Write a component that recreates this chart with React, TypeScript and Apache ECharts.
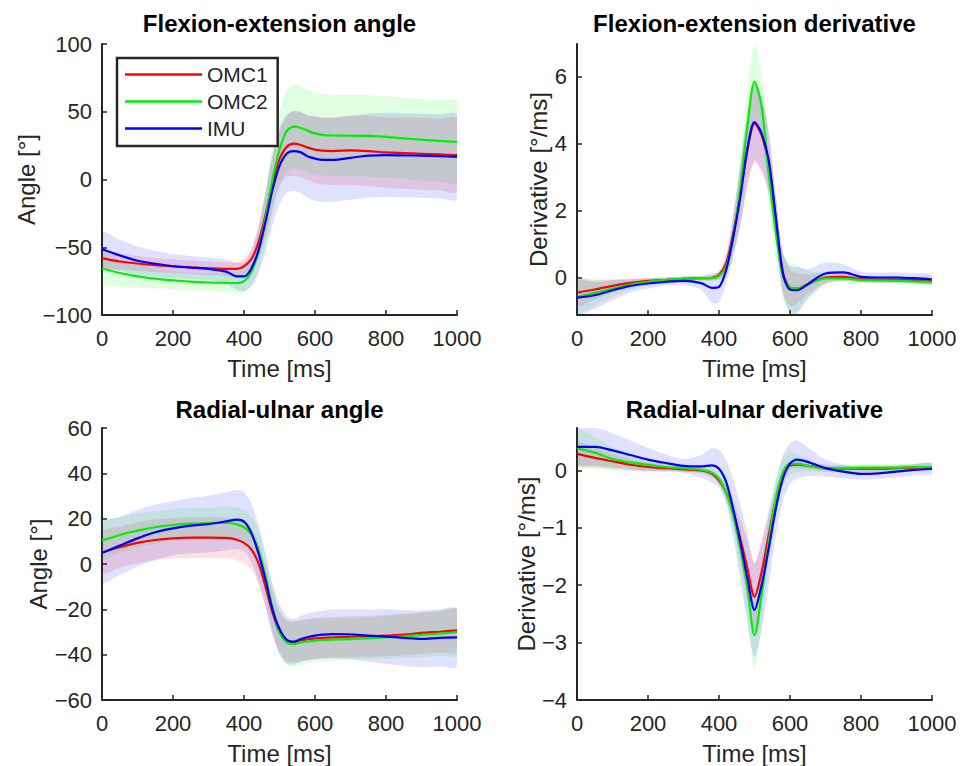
import React, { useEffect, useRef } from "react";
import * as echarts from "echarts";

// ---------- data ----------
const TIME = [0, 50, 100, 150, 200, 250, 300, 350, 380, 400, 420, 440, 460, 480, 500, 520, 540, 560, 580, 600, 620, 650, 700, 750, 800, 850, 900, 950, 1000];

const SERIES_NAMES = ["OMC1", "OMC2", "IMU"];
const LINE_COLORS = ["#ff0000", "#00f000", "#0000ff"];
const BAND_COLORS = ["#ff0000", "#00ff00", "#0000ff"];

const TITLES = ["Flexion-extension angle", "Flexion-extension derivative", "Radial-ulnar angle", "Radial-ulnar derivative"];
const Y_NAMES = ["Angle [°]", "Derivative [°/ms]", "Angle [°]", "Derivative [°/ms]"];
const X_NAME = "Time [ms]";
const X_TICKS = [0, 200, 400, 600, 800, 1000];
const Y_TICKS_FE_ANGLE = [-100, -50, 0, 50, 100];
const Y_TICKS_FE_DERIV = [0, 2, 4, 6];
const Y_TICKS_RU_ANGLE = [-60, -40, -20, 0, 20, 40, 60];
const Y_TICKS_RU_DERIV = [-4, -3, -2, -1, 0];
const Y_RANGES = [[-100, 100], [-1.12, 6.97], [-60, 60], [-4, 0.74]];

// Flexion-extension angle: means
const FE_ANGLE_OMC1 = [-58, -60.5, -62, -63.2, -64, -64.8, -65.5, -66, -66, -64, -59, -47, -27, -2.5, 15, 24, 26.5, 25.5, 23.5, 22, 21.3, 21, 21.5, 21, 20, 19.5, 19, 18.5, 18];
const FE_ANGLE_OMC2 = [-65.7, -69, -71.5, -73.2, -74.5, -75.4, -76, -76.3, -76.5, -75, -68.6, -54, -29, 0, 22, 35.5, 39, 38, 36, 34, 33, 32.6, 32.3, 32.2, 31.4, 30.4, 29.4, 28.5, 27.7];
const FE_ANGLE_IMU = [-51.5, -56, -60, -62.2, -64, -65, -66, -68, -71.5, -71.5, -66, -53, -32, -8, 10, 19, 21, 20, 17, 15.5, 14.5, 14.5, 16, 17.6, 18, 17.8, 17.6, 17.2, 16.7];
// Flexion-extension angle: standard deviations
const FE_ANGLE_OMC1_SD = [6, 6, 5.5, 5, 5, 5, 5, 5, 5, 6, 8, 12, 16, 19, 20, 22, 24, 24, 24, 24.5, 24.8, 25, 25.5, 26, 26, 26.3, 26.5, 26.6, 26.6];
const FE_ANGLE_OMC2_SD = [11.5, 10, 8.5, 7, 6.5, 6.5, 6.5, 7, 7.5, 8, 10, 14, 20, 25, 28, 30, 31, 31, 30.5, 30, 30, 30, 30, 30, 30, 30, 30, 30, 30];
const FE_ANGLE_IMU_SD = [12.5, 11.5, 10.5, 9.5, 9, 8.5, 8.5, 9, 10, 11, 13, 17, 22, 26, 28, 29, 29.5, 30, 30.5, 31, 31, 31, 31, 31, 31, 31, 31, 31, 31];

// Flexion-extension derivative: means
const FE_DERIV_OMC1 = [-0.45, -0.36, -0.25, -0.16, -0.1, -0.07, -0.04, -0.02, -0.01, 0.07, 0.42, 1.3, 2.5, 3.8, 4.6, 4.25, 3.4, 1.75, 0.15, -0.3, -0.33, -0.2, 0, 0.02, -0.05, -0.06, -0.06, -0.07, -0.08];
const FE_DERIV_OMC2 = [-0.58, -0.46, -0.33, -0.21, -0.13, -0.07, -0.04, -0.02, -0.02, 0.04, 0.32, 1.2, 2.7, 4.5, 5.85, 5.1, 3.1, 1.35, 0.05, -0.3, -0.33, -0.2, -0.03, -0.03, -0.08, -0.09, -0.1, -0.12, -0.13];
const FE_DERIV_IMU = [-0.6, -0.53, -0.38, -0.25, -0.18, -0.13, -0.1, -0.17, -0.31, -0.28, 0.22, 1.2, 2.4, 3.85, 4.64, 4.3, 3.5, 1.8, 0.12, -0.36, -0.38, -0.2, 0.12, 0.15, 0.02, 0, 0, -0.02, -0.06];
// Flexion-extension derivative: standard deviations
const FE_DERIV_OMC1_SD = [0.4, 0.3, 0.2, 0.13, 0.1, 0.08, 0.07, 0.07, 0.08, 0.12, 0.3, 0.6, 0.9, 1.1, 1.2, 1.1, 0.9, 0.7, 0.6, 0.55, 0.45, 0.3, 0.15, 0.12, 0.1, 0.1, 0.1, 0.1, 0.1];
const FE_DERIV_OMC2_SD = [0.5, 0.38, 0.25, 0.15, 0.1, 0.08, 0.07, 0.07, 0.08, 0.12, 0.3, 0.6, 0.9, 1.05, 1.1, 1.0, 0.9, 0.75, 0.7, 0.75, 0.7, 0.4, 0.15, 0.12, 0.1, 0.1, 0.1, 0.1, 0.1];
const FE_DERIV_IMU_SD = [0.5, 0.4, 0.3, 0.2, 0.15, 0.12, 0.12, 0.2, 0.45, 0.45, 0.4, 0.6, 0.9, 1.05, 1.15, 1.1, 0.9, 0.7, 0.6, 0.7, 0.7, 0.45, 0.33, 0.25, 0.15, 0.15, 0.15, 0.15, 0.15];

// Radial-ulnar angle: means
const RU_ANGLE_OMC1 = [5.1, 7.4, 9.3, 10.6, 11.3, 11.6, 11.6, 11.5, 10.7, 9.3, 6.6, 0.7, -9.6, -21.3, -30, -33.8, -34.3, -33.8, -33.2, -32.8, -32.6, -32.4, -32, -31.9, -31.6, -31.2, -30.4, -29.9, -29.3];
const RU_ANGLE_OMC2 = [10.3, 12.8, 14.7, 16.2, 17.2, 17.8, 18, 18.2, 17.5, 16.2, 13.2, 6.6, -5.1, -19.1, -30, -34.6, -35.3, -34.6, -34.2, -33.8, -33.6, -33.4, -33.1, -32.8, -32.4, -31.9, -31.3, -30.7, -30.1];
const RU_ANGLE_IMU = [4.9, 8.1, 11.3, 14, 15.7, 16.9, 17.6, 18.8, 19.6, 18.7, 14, 5.1, -6.6, -19.9, -28.7, -33.4, -34.3, -33.1, -32.2, -31.6, -31.2, -30.9, -31, -31.6, -32, -32.6, -33, -32.6, -32.4];
// Radial-ulnar angle: standard deviations
const RU_ANGLE_OMC1_SD = [9, 9, 9, 9, 9, 9, 9, 9, 9, 9, 9, 9, 9, 9, 9, 9, 9, 9, 9, 9, 9, 9, 9, 9, 9.1, 9.2, 9.2, 9.3, 9.3];
const RU_ANGLE_OMC2_SD = [8, 7.8, 7.5, 7.2, 7, 7, 7, 7.2, 7.4, 7.5, 8, 8.5, 9, 9.5, 10, 10, 10, 9.8, 9.6, 9.5, 9.3, 9.2, 9, 9.2, 9.5, 9.6, 9.8, 9.9, 10];
const RU_ANGLE_IMU_SD = [13, 12.8, 12.5, 12.2, 12, 12.2, 12.5, 12.8, 13, 13, 13, 12.5, 12, 11.5, 11, 10.5, 10, 10.2, 10.4, 10.5, 10.6, 10.8, 11, 11.5, 12, 12.3, 12.5, 12.6, 12.6];

// Radial-ulnar derivative: means
const RU_DERIV_OMC1 = [0.29, 0.22, 0.16, 0.1, 0.06, 0.04, 0.02, 0, -0.06, -0.17, -0.38, -0.72, -1.19, -1.71, -2.2, -1.77, -1.13, -0.52, -0.09, 0.09, 0.1, 0.08, 0.04, 0.03, 0.03, 0.03, 0.04, 0.05, 0.06];
const RU_DERIV_OMC2 = [0.39, 0.31, 0.2, 0.14, 0.1, 0.06, 0.04, 0.01, -0.04, -0.14, -0.38, -0.78, -1.36, -2.06, -2.87, -2.17, -1.25, -0.49, -0.03, 0.12, 0.12, 0.08, 0.03, 0.04, 0.05, 0.05, 0.05, 0.06, 0.06];
const RU_DERIV_IMU = [0.41, 0.41, 0.35, 0.27, 0.19, 0.13, 0.08, 0.07, 0.09, 0.03, -0.2, -0.67, -1.25, -1.88, -2.43, -2.0, -1.36, -0.67, -0.14, 0.12, 0.19, 0.15, 0.04, -0.02, -0.06, -0.05, -0.02, 0.01, 0.03];
// Radial-ulnar derivative: standard deviations
const RU_DERIV_OMC1_SD = [0.2, 0.17, 0.13, 0.1, 0.08, 0.06, 0.05, 0.05, 0.06, 0.08, 0.12, 0.2, 0.35, 0.5, 0.58, 0.5, 0.35, 0.2, 0.12, 0.08, 0.06, 0.06, 0.06, 0.06, 0.06, 0.06, 0.06, 0.06, 0.06];
const RU_DERIV_OMC2_SD = [0.33, 0.27, 0.2, 0.15, 0.1, 0.07, 0.06, 0.06, 0.07, 0.1, 0.15, 0.25, 0.38, 0.5, 0.58, 0.5, 0.4, 0.3, 0.25, 0.2, 0.15, 0.1, 0.06, 0.06, 0.06, 0.06, 0.06, 0.06, 0.06];
const RU_DERIV_IMU_SD = [0.3, 0.33, 0.3, 0.25, 0.2, 0.15, 0.12, 0.2, 0.3, 0.33, 0.38, 0.5, 0.65, 0.78, 0.82, 0.78, 0.65, 0.5, 0.4, 0.35, 0.33, 0.25, 0.15, 0.12, 0.1, 0.1, 0.1, 0.1, 0.1];

const PANEL_MEANS = [
  [FE_ANGLE_OMC1, FE_ANGLE_OMC2, FE_ANGLE_IMU],
  [FE_DERIV_OMC1, FE_DERIV_OMC2, FE_DERIV_IMU],
  [RU_ANGLE_OMC1, RU_ANGLE_OMC2, RU_ANGLE_IMU],
  [RU_DERIV_OMC1, RU_DERIV_OMC2, RU_DERIV_IMU],
];
const PANEL_SDS = [
  [FE_ANGLE_OMC1_SD, FE_ANGLE_OMC2_SD, FE_ANGLE_IMU_SD],
  [FE_DERIV_OMC1_SD, FE_DERIV_OMC2_SD, FE_DERIV_IMU_SD],
  [RU_ANGLE_OMC1_SD, RU_ANGLE_OMC2_SD, RU_ANGLE_IMU_SD],
  [RU_DERIV_OMC1_SD, RU_DERIV_OMC2_SD, RU_DERIV_IMU_SD],
];
const PANEL_Y_TICKS = [Y_TICKS_FE_ANGLE, Y_TICKS_FE_DERIV, Y_TICKS_RU_ANGLE, Y_TICKS_RU_DERIV];

// ---------- layout / style ----------
const FONT = '"Liberation Sans", Arial, Helvetica, sans-serif';
const TEXT_COLOR = "#262626";
const GRIDS = [
  { left: 102, top: 44, width: 355, height: 271 },
  { left: 577, top: 44, width: 355, height: 271 },
  { left: 102, top: 428, width: 355, height: 272 },
  { left: 577, top: 428, width: 355, height: 272 },
];
const Y_NAME_GAPS = [60, 27, 48, 35];
const TITLE_TOPS = [11, 11, 397, 397];
const BAND_OPACITY = 0.12;
const SMOOTH = 0.3;

const fmt = (v: number) => String(v).replace("-", "\u2212");

function buildOption() {
  const series: any[] = [];
  PANEL_MEANS.forEach((means, p) => {
    means.forEach((mean, s) => {
      const sd = PANEL_SDS[p][s];
      const bandData = TIME.map((t, k) => [t, mean[k] - sd[k], mean[k] + sd[k]]);
      series.push({
        type: "custom",
        name: `${SERIES_NAMES[s]} band`,
        xAxisIndex: p,
        yAxisIndex: p,
        data: bandData,
        encode: { x: 0, y: [1, 2] },
        silent: true,
        clip: true,
        z: 1,
        renderItem: (params: any, api: any) => {
          if (params.dataIndex !== 0) return null;
          const upper = bandData.map((d) => api.coord([d[0], d[2]]));
          const lower = bandData.map((d) => api.coord([d[0], d[1]])).reverse();
          return {
            type: "polygon",
            shape: { points: upper.concat(lower), smooth: SMOOTH, smoothConstraint: false },
            style: { fill: BAND_COLORS[s], opacity: BAND_OPACITY, stroke: "none" },
          };
        },
      });
    });
    means.forEach((mean, s) => {
      series.push({
        type: "line",
        name: SERIES_NAMES[s],
        xAxisIndex: p,
        yAxisIndex: p,
        data: TIME.map((t, k) => [t, mean[k]]),
        smooth: SMOOTH,
        symbol: "none",
        showSymbol: false,
        lineStyle: { color: LINE_COLORS[s], width: 2.2 },
        itemStyle: { color: LINE_COLORS[s] },
        z: 3,
      });
    });
  });

  const axisLine = { show: true, onZero: false, lineStyle: { color: TEXT_COLOR, width: 2 } };
  const axisTick = { show: true, inside: true, length: 5, lineStyle: { color: TEXT_COLOR, width: 1.5 } };

  const xAxis = GRIDS.map((_, p) => ({
    type: "value",
    gridIndex: p,
    min: 0,
    max: 1000,
    name: X_NAME,
    nameLocation: "middle",
    nameGap: 41,
    nameTextStyle: { fontSize: 24, color: TEXT_COLOR, fontFamily: FONT },
    axisLine,
    axisTick: { ...axisTick, customValues: X_TICKS },
    axisLabel: { customValues: X_TICKS, fontSize: 22, color: TEXT_COLOR, fontFamily: FONT, margin: 12, formatter: fmt },
    splitLine: { show: false },
  }));

  const yAxis = GRIDS.map((_, p) => ({
    type: "value",
    gridIndex: p,
    min: Y_RANGES[p][0],
    max: Y_RANGES[p][1],
    name: Y_NAMES[p],
    nameLocation: "middle",
    nameGap: Y_NAME_GAPS[p],
    nameTextStyle: { fontSize: 24, color: TEXT_COLOR, fontFamily: FONT },
    axisLine,
    axisTick: { ...axisTick, customValues: PANEL_Y_TICKS[p] },
    axisLabel: {
      customValues: PANEL_Y_TICKS[p],
      fontSize: 22,
      color: TEXT_COLOR,
      fontFamily: FONT,
      margin: 10,
      formatter: fmt,
      showMinLabel: true,
      showMaxLabel: true,
    },
    splitLine: { show: false },
  }));

  const title = TITLES.map((text, p) => ({
    text,
    left: GRIDS[p].left + GRIDS[p].width / 2,
    top: TITLE_TOPS[p],
    textAlign: "center",
    padding: 0,
    textStyle: { fontSize: 24, fontWeight: "bold", color: "#000", fontFamily: FONT, lineHeight: 24 },
  }));

  return {
    animation: false,
    backgroundColor: "#ffffff",
    title,
    grid: GRIDS.map((g) => ({ ...g, containLabel: false })),
    xAxis,
    yAxis,
    legend: {
      show: true,
      data: SERIES_NAMES,
      orient: "vertical",
      left: 117,
      top: 58,
      padding: [6, 10, 7, 8],
      itemGap: 6,
      itemWidth: 77,
      itemHeight: 2.5,
      icon: "rect",
      borderColor: TEXT_COLOR,
      borderWidth: 2.5,
      backgroundColor: "#ffffff",
      selectedMode: false,
      textStyle: { fontSize: 21, color: TEXT_COLOR, fontFamily: FONT, lineHeight: 20 },
      z: 10,
    },
    series,
  };
}

export default function App() {
  const ref = useRef<HTMLDivElement>(null);
  useEffect(() => {
    if (!ref.current) return;
    const chart = echarts.init(ref.current, undefined, { renderer: "svg" });
    chart.setOption(buildOption() as any);
    return () => chart.dispose();
  }, []);
  return (
    <div
      ref={ref}
      style={{ position: "absolute", left: 0, top: 0, width: 964, height: 766, background: "#fff" }}
    />
  );
}
